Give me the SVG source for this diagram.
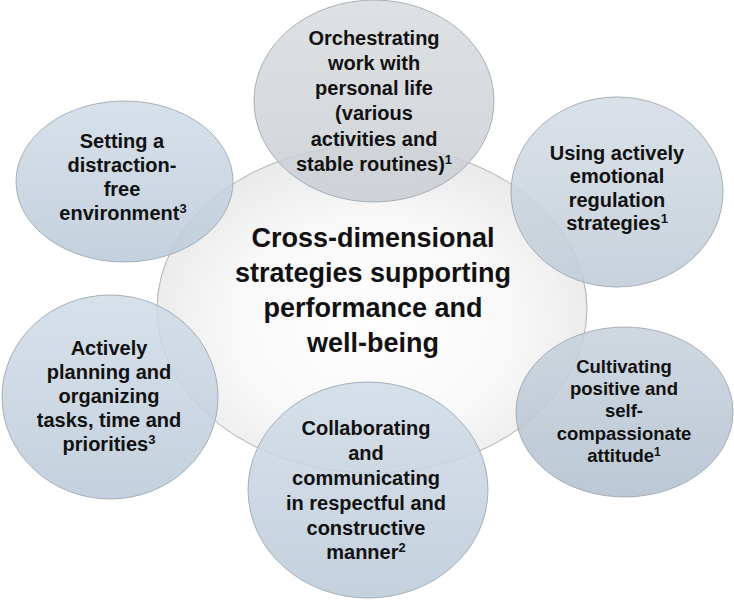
<svg xmlns="http://www.w3.org/2000/svg" width="734" height="600" viewBox="0 0 734 600">
<style>
.nt{font-family:"Liberation Sans",Arial,sans-serif;font-weight:bold;font-size:20px;fill:#111;text-anchor:middle}
.ct{font-family:"Liberation Sans",Arial,sans-serif;font-weight:bold;font-size:27px;fill:#111;text-anchor:middle}
.sup{font-size:13px}
.node{stroke:#96a0aa;stroke-width:0.8;fill-opacity:0.86}
.hub{stroke:#a0a0a0;stroke-width:0.8}
</style>
<defs>
<radialGradient id="gHub" cx="0.5" cy="0.55" r="0.55">
<stop offset="0" stop-color="#ffffff"/>
<stop offset="0.6" stop-color="#f8f8f8"/>
<stop offset="1" stop-color="#e9e9e9"/>
</radialGradient>
<linearGradient id="gBlue" x1="0" y1="0" x2="0" y2="1">
<stop offset="0" stop-color="#d1dce7"/>
<stop offset="1" stop-color="#bac9d8"/>
</linearGradient>
<linearGradient id="gGray" x1="0" y1="0" x2="0" y2="1">
<stop offset="0" stop-color="#d9dcdf"/>
<stop offset="1" stop-color="#c9ced3"/>
</linearGradient>
<linearGradient id="gSteel" x1="0" y1="0" x2="0" y2="1">
<stop offset="0" stop-color="#d5dce4"/>
<stop offset="1" stop-color="#bfcbd7"/>
</linearGradient>
<linearGradient id="gDark" x1="0" y1="0" x2="0" y2="1">
<stop offset="0" stop-color="#c8d2dc"/>
<stop offset="1" stop-color="#b0bfce"/>
</linearGradient>
</defs>
<rect width="734" height="600" fill="#ffffff"/>
<g id="hub">
<ellipse class="hub" cx="372" cy="309" rx="215" ry="164" fill="url(#gHub)"/>
<text class="ct" x="373" y="247">Cross-dimensional</text>
<text class="ct" x="373" y="282">strategies supporting</text>
<text class="ct" x="373" y="317">performance and</text>
<text class="ct" x="373" y="352">well-being</text>
</g>
<g id="connectors"/>
<g id="node-orchestrating">
<ellipse class="node" cx="374" cy="101" rx="120" ry="101" fill="url(#gGray)"/>
<text class="nt" x="374" y="45">Orchestrating</text>
<text class="nt" x="374" y="70">work with</text>
<text class="nt" x="374" y="95">personal life</text>
<text class="nt" x="374" y="120">(various</text>
<text class="nt" x="374" y="146">activities and</text>
<text class="nt" x="374" y="171">stable routines)<tspan class="sup" dy="-7">1</tspan></text>
</g>
<g id="node-distraction">
<ellipse class="node" cx="124.5" cy="181.5" rx="108.5" ry="80.5" fill="url(#gBlue)"/>
<text class="nt" x="122" y="148">Setting a</text>
<text class="nt" x="122" y="172">distraction-</text>
<text class="nt" x="122" y="196">free</text>
<text class="nt" x="123" y="220">environment<tspan class="sup" dy="-7">3</tspan></text>
</g>
<g id="node-emotional">
<ellipse class="node" cx="617" cy="192" rx="106" ry="95" fill="url(#gSteel)"/>
<text class="nt" x="617" y="160">Using actively</text>
<text class="nt" x="617" y="183">emotional</text>
<text class="nt" x="617" y="207">regulation</text>
<text class="nt" x="617" y="230">strategies<tspan class="sup" dy="-7">1</tspan></text>
</g>
<g id="node-attitude">
<ellipse class="node" cx="624.5" cy="412" rx="108.5" ry="85" fill="url(#gDark)"/>
<text class="nt" x="624" y="373" style="font-size:18.5px">Cultivating</text>
<text class="nt" x="624" y="395" style="font-size:18.5px">positive and</text>
<text class="nt" x="624" y="417" style="font-size:18.5px">self-</text>
<text class="nt" x="624" y="440" style="font-size:18.5px">compassionate</text>
<text class="nt" x="624" y="462" style="font-size:18.5px">attitude<tspan class="sup" dy="-6.5" style="font-size:12px">1</tspan></text>
</g>
<g id="node-planning">
<ellipse class="node" cx="110" cy="397" rx="108" ry="102" fill="url(#gBlue)"/>
<text class="nt" x="109" y="355">Actively</text>
<text class="nt" x="109" y="379">planning and</text>
<text class="nt" x="109" y="403">organizing</text>
<text class="nt" x="109" y="427">tasks, time and</text>
<text class="nt" x="109" y="451">priorities<tspan class="sup" dy="-7">3</tspan></text>
</g>
<g id="node-collaborating">
<ellipse class="node" cx="368" cy="490" rx="120" ry="108" fill="url(#gBlue)"/>
<text class="nt" x="366" y="435">Collaborating</text>
<text class="nt" x="366" y="460">and</text>
<text class="nt" x="366" y="485">communicating</text>
<text class="nt" x="366" y="510">in respectful and</text>
<text class="nt" x="366" y="535">constructive</text>
<text class="nt" x="366" y="559">manner<tspan class="sup" dy="-7">2</tspan></text>
</g>
</svg>
